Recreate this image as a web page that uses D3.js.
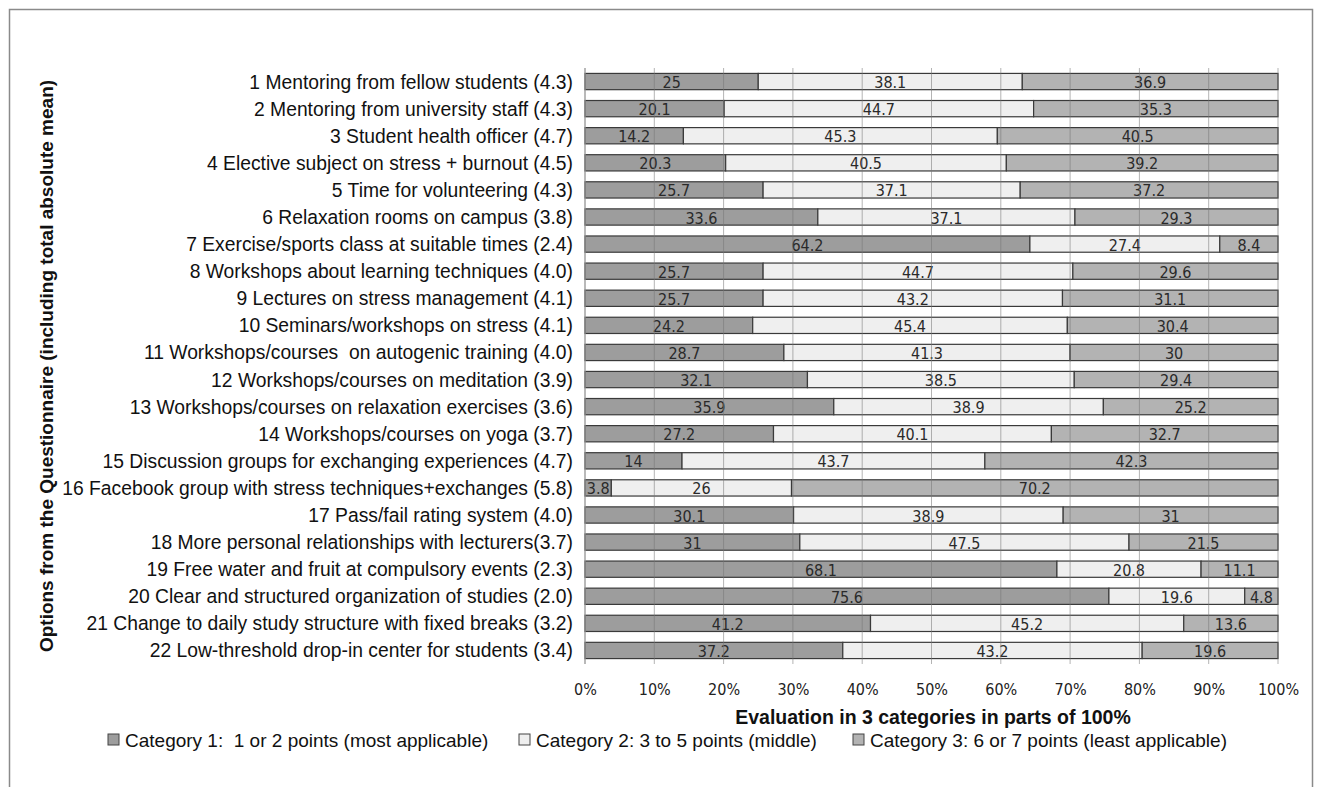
<!DOCTYPE html>
<html>
<head>
<meta charset="utf-8">
<script src="https://cdn.jsdelivr.net/npm/d3@7"></script>
<style>
  body { margin: 0; background: #fff; }
  svg text { font-family: "Liberation Sans", Arial, sans-serif; white-space: pre; }
</style>
</head>
<body>
<div id="chart"></div>
<script>
// options asked about in the questionnaire, with total absolute mean
var options = [
    "1 Mentoring from fellow students (4.3)",
    "2 Mentoring from university staff (4.3)",
    "3 Student health officer (4.7)",
    "4 Elective subject on stress + burnout (4.5)",
    "5 Time for volunteering (4.3)",
    "6 Relaxation rooms on campus (3.8)",
    "7 Exercise/sports class at suitable times (2.4)",
    "8 Workshops about learning techniques (4.0)",
    "9 Lectures on stress management (4.1)",
    "10 Seminars/workshops on stress (4.1)",
    "11 Workshops/courses  on autogenic training (4.0)",
    "12 Workshops/courses on meditation (3.9)",
    "13 Workshops/courses on relaxation exercises (3.6)",
    "14 Workshops/courses on yoga (3.7)",
    "15 Discussion groups for exchanging experiences (4.7)",
    "16 Facebook group with stress techniques+exchanges (5.8)",
    "17 Pass/fail rating system (4.0)",
    "18 More personal relationships with lecturers(3.7)",
    "19 Free water and fruit at compulsory events (2.3)",
    "20 Clear and structured organization of studies (2.0)",
    "21 Change to daily study structure with fixed breaks (3.2)",
    "22 Low-threshold drop-in center for students (3.4)"
];

var cat1 = [25, 20.1, 14.2, 20.3, 25.7, 33.6, 64.2, 25.7, 25.7, 24.2, 28.7,
            32.1, 35.9, 27.2, 14, 3.8, 30.1, 31, 68.1, 75.6, 41.2, 37.2];
var cat2 = [38.1, 44.7, 45.3, 40.5, 37.1, 37.1, 27.4, 44.7, 43.2, 45.4, 41.3,
            38.5, 38.9, 40.1, 43.7, 26, 38.9, 47.5, 20.8, 19.6, 45.2, 43.2];
var cat3 = [36.9, 35.3, 40.5, 39.2, 37.2, 29.3, 8.4, 29.6, 31.1, 30.4, 30,
            29.4, 25.2, 32.7, 42.3, 70.2, 31, 21.5, 11.1, 4.8, 13.6, 19.6];

var seriesNames = [
    "Category 1:  1 or 2 points (most applicable)",
    "Category 2: 3 to 5 points (middle)",
    "Category 3: 6 or 7 points (least applicable)"
];
var seriesColors = ["#9d9d9d", "#efefef", "#b3b3b3"];
var xTicks = [0, 0.1, 0.2, 0.3, 0.4, 0.5, 0.6, 0.7, 0.8, 0.9, 1];

var width = 1322, height = 787;
var plot = { left: 585, right: 1278, top: 68, bottom: 664 };

var svg = d3.select("#chart").append("svg")
    .attr("width", width)
    .attr("height", height);

// outer frame
svg.append("rect")
    .attr("x", 9.5).attr("y", 9.5)
    .attr("width", 1303).attr("height", 800)
    .style("fill", "none")
    .style("stroke", "#8a8a8a")
    .style("stroke-width", 1.5);

var x = d3.scaleLinear().domain([0, 1]).range([plot.left, plot.right]);
var y = d3.scaleBand().domain(options).range([plot.top, plot.bottom]).paddingInner(0.4).paddingOuter(0.2);

// build stacked rows (100% stacked, normalised per row)
var rows = options.map(function(name, i) {
    var vals = [cat1[i], cat2[i], cat3[i]];
    var total = d3.sum(vals);
    var acc = 0;
    return vals.map(function(v, k) {
        var seg = { name: name, k: k, value: v, x0: acc / total, x1: (acc + v) / total };
        acc += v;
        return seg;
    });
});

var bars = svg.append("g").attr("class", "bars");
var row = bars.selectAll(".row")
    .data(rows)
  .enter().append("g")
    .attr("class", "row");

row.selectAll("rect")
    .data(function(d) { return d; })
  .enter().append("rect")
    .attr("x", function(d) { return x(d.x0); })
    .attr("y", function(d) { return y(d.name); })
    .attr("width", function(d) { return x(d.x1) - x(d.x0); })
    .attr("height", y.bandwidth())
    .style("fill", function(d) { return seriesColors[d.k]; })
    .style("stroke", "#3a3a3a")
    .style("stroke-width", 1.2);

// gridlines show through the bars
svg.append("g").attr("class", "grid")
    .selectAll("line")
    .data(xTicks)
  .enter().append("line")
    .attr("x1", function(d) { return x(d); })
    .attr("x2", function(d) { return x(d); })
    .attr("y1", plot.top)
    .attr("y2", plot.bottom)
    .style("stroke", "#777")
    .style("stroke-opacity", 0.55)
    .style("stroke-width", 1);

// left axis line
svg.append("line")
    .attr("x1", plot.left).attr("x2", plot.left)
    .attr("y1", plot.top).attr("y2", plot.bottom)
    .style("stroke", "#999");

// value labels
row.selectAll("text")
    .data(function(d) { return d; })
  .enter().append("text")
    .attr("x", function(d) { return (x(d.x0) + x(d.x1)) / 2; })
    .attr("y", function(d) { return y(d.name) + y.bandwidth() / 2 + 6.5; })
    .attr("text-anchor", "middle")
    .style("font-family", "'DejaVu Sans Condensed', sans-serif")
    .style("font-size", "16px")
    .style("fill", "#2a2a2a")
    .text(function(d) { return d.value; });

// category labels
svg.append("g").selectAll("text")
    .data(options)
  .enter().append("text")
    .attr("x", 573)
    .attr("y", function(d) { return y(d) + y.bandwidth() / 2 + 7; })
    .attr("text-anchor", "end")
    .style("font-size", "19.3px")
    .style("fill", "#111")
    .text(function(d) { return d; });

// x axis tick labels
var xAxis = d3.axisBottom(x)
    .tickValues(xTicks)
    .tickFormat(d3.format(".0%"))
    .tickSize(0)
    .tickPadding(0);

var axisG = svg.append("g")
    .attr("transform", "translate(0," + 695 + ")")
    .call(xAxis);
axisG.select(".domain").remove();
axisG.selectAll("text")
    .attr("dy", 0)
    .style("font-family", "'DejaVu Sans Condensed', sans-serif")
    .style("font-size", "16px")
    .style("fill", "#222");

// axis titles
svg.append("text")
    .attr("x", 933).attr("y", 724)
    .attr("text-anchor", "middle")
    .style("font-size", "19.5px")
    .style("font-weight", "bold")
    .style("fill", "#111")
    .text("Evaluation in 3 categories in parts of 100%");

svg.append("text")
    .attr("transform", "translate(53,366) rotate(-90)")
    .attr("text-anchor", "middle")
    .style("font-size", "19px")
    .style("font-weight", "bold")
    .style("fill", "#111")
    .text("Options from the Questionnaire (including total absolute mean)");

// legend
var legendX = [108, 519, 853];
var legend = svg.append("g").selectAll("g")
    .data(seriesNames)
  .enter().append("g")
    .attr("transform", function(d, i) { return "translate(" + legendX[i] + ",740)"; });

legend.append("rect")
    .attr("x", 0).attr("y", -6)
    .attr("width", 11).attr("height", 11)
    .style("fill", function(d, i) { return seriesColors[i]; })
    .style("stroke", "#444");

legend.append("text")
    .attr("x", 17).attr("y", 7)
    .style("font-size", "19px")
    .style("fill", "#111")
    .text(function(d) { return d; });
</script>
</body>
</html>
